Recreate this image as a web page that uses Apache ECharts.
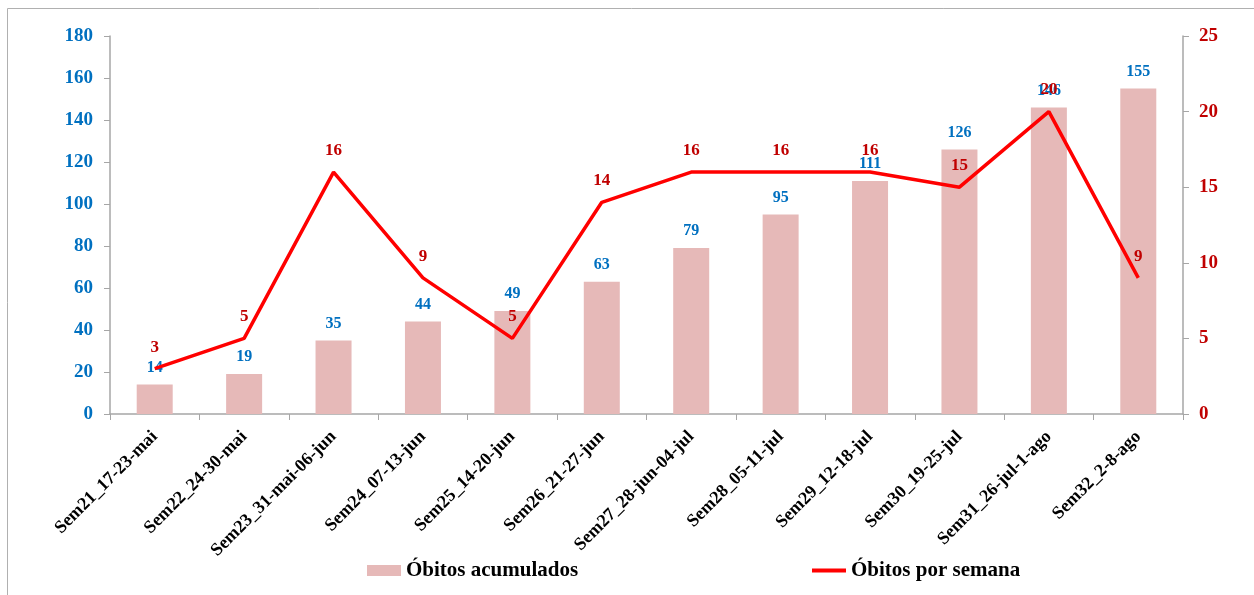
<!DOCTYPE html>
<html>
<head>
<meta charset="utf-8">
<script src="https://cdn.jsdelivr.net/npm/echarts@6/dist/echarts.min.js"></script>
<style>
  html, body { margin: 0; padding: 0; background: #fff; }
  #chart { width: 1254px; height: 595px; }
</style>
</head>
<body>
<div id="chart"></div>
<script>
// semanas epidemiológicas
const semanas = [
  'Sem21_17-23-mai', 'Sem22_24-30-mai', 'Sem23_31-mai-06-jun', 'Sem24_07-13-jun',
  'Sem25_14-20-jun', 'Sem26_21-27-jun', 'Sem27_28-jun-04-jul', 'Sem28_05-11-jul',
  'Sem29_12-18-jul', 'Sem30_19-25-jul', 'Sem31_26-jul-1-ago', 'Sem32_2-8-ago'
];
const obitosAcumulados = [14, 19, 35, 44, 49, 63, 79, 95, 111, 126, 146, 155];
const obitosSemana = [3, 5, 16, 9, 5, 14, 16, 16, 16, 15, 20, 9];

const serif = '"Liberation Serif", "DejaVu Serif", serif';
const axisColor = '#a6a6a6';
const legendText = { fontFamily: serif, fontWeight: 'bold', fontSize: 21, color: '#000' };

const chart = echarts.init(document.getElementById('chart'));
chart.setOption({
  animation: false,
  graphic: [{
    type: 'rect',
    shape: { x: 7.5, y: 8.5, width: 1400, height: 800 },
    style: { fill: 'none', stroke: '#b0b0b0', lineWidth: 1 },
    silent: true
  }],
  grid: { left: 110, right: 71, top: 36, bottom: 181 },
  legend: [{
    left: 362, top: 555,
    itemWidth: 34, itemHeight: 11,
    textStyle: legendText,
    data: [{ name: 'Óbitos acumulados', icon: 'rect' }]
  }, {
    left: 807, top: 555,
    itemWidth: 34, itemHeight: 4,
    textStyle: legendText,
    data: [{ name: 'Óbitos por semana', icon: 'rect' }]
  }],
  xAxis: {
    type: 'category',
    data: semanas,
    boundaryGap: true,
    axisLine: { lineStyle: { color: axisColor, width: 1.5 } },
    axisTick: { show: true, alignWithLabel: false, length: 6, lineStyle: { color: axisColor } },
    axisLabel: {
      interval: 0, rotate: 45, margin: 20,
      fontFamily: serif, fontWeight: 'bold', fontSize: 18, color: '#000'
    }
  },
  yAxis: [{
    type: 'value', min: 0, max: 180, interval: 20,
    splitLine: { show: false },
    axisLine: { show: true, lineStyle: { color: axisColor, width: 1.5 } },
    axisTick: { show: true, length: 6, lineStyle: { color: axisColor } },
    axisLabel: { margin: 17, fontFamily: serif, fontWeight: 'bold', fontSize: 19, color: '#0070c0' }
  }, {
    type: 'value', min: 0, max: 25, interval: 5,
    splitLine: { show: false },
    axisLine: { show: true, lineStyle: { color: axisColor, width: 1.5 } },
    axisTick: { show: true, length: 6, lineStyle: { color: axisColor } },
    axisLabel: { margin: 16, fontFamily: serif, fontWeight: 'bold', fontSize: 19, color: '#c00000' }
  }],
  series: [{
    name: 'Óbitos acumulados',
    type: 'bar',
    yAxisIndex: 0,
    barWidth: 36,
    itemStyle: { color: '#e6b9b8' },
    label: {
      show: true, position: 'top', distance: 9,
      fontFamily: serif, fontWeight: 'bold', fontSize: 16, color: '#0070c0'
    },
    data: obitosAcumulados
  }, {
    name: 'Óbitos por semana',
    type: 'line',
    yAxisIndex: 1,
    symbol: 'circle',
    symbolSize: 0,
    showSymbol: true,
    lineStyle: { color: '#ff0000', width: 3.5 },
    itemStyle: { color: '#ff0000' },
    label: {
      show: true, position: 'top', distance: 13,
      fontFamily: serif, fontWeight: 'bold', fontSize: 17, color: '#c00000'
    },
    data: obitosSemana
  }]
});
</script>
</body>
</html>
